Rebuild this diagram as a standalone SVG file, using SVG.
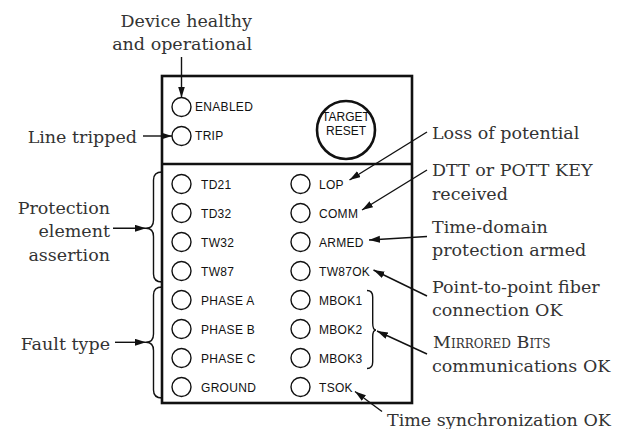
<svg xmlns="http://www.w3.org/2000/svg" width="626" height="429" viewBox="0 0 626 429">
<style>
.note{font-family:"DejaVu Serif","Liberation Serif",serif;font-size:17.5px;fill:#333}
.lbl{font-family:"Liberation Sans","DejaVu Sans",sans-serif;font-size:12px;fill:#111;letter-spacing:0.3px}
.led{fill:#fff;stroke:#111;stroke-width:1.4}
.box{fill:#fff;stroke:#111;stroke-width:2.6}
.arr{fill:none;stroke:#111;stroke-width:1.4;marker-end:url(#ah)}
.brace{fill:none;stroke:#111;stroke-width:1.4}
</style>
<defs>
<marker id="ah" markerUnits="userSpaceOnUse" markerWidth="12" markerHeight="8" refX="11" refY="3.5" orient="auto">
<path d="M0,0 L11,3.5 L0,7 z" fill="#111"/>
</marker>
</defs>
<rect width="626" height="429" fill="#fff"/>
<g id="panel">
<rect class="box" x="162" y="76" width="250" height="327"/>
<line x1="162" y1="164" x2="412" y2="164" stroke="#111" stroke-width="2.6"/>
</g>
<g id="target-reset">
<circle cx="346" cy="130" r="29" fill="#fff" stroke="#111" stroke-width="2.6"/>
<text class="lbl" x="346" y="121" text-anchor="middle" style="letter-spacing:0">TARGET</text>
<text class="lbl" x="346" y="135" text-anchor="middle" style="letter-spacing:0">RESET</text>
</g>
<g id="enabled"><circle class="led" cx="181.5" cy="107" r="9.5"/><text class="lbl" x="195" y="111">ENABLED</text></g>
<g id="trip"><circle class="led" cx="181.5" cy="136" r="9.5"/><text class="lbl" x="195" y="140">TRIP</text></g>
<g id="td21"><circle class="led" cx="181.5" cy="184" r="9.5"/><text class="lbl" x="201" y="188.5">TD21</text></g>
<g id="td32"><circle class="led" cx="181.5" cy="213" r="9.5"/><text class="lbl" x="201" y="217.5">TD32</text></g>
<g id="tw32"><circle class="led" cx="181.5" cy="242" r="9.5"/><text class="lbl" x="201" y="246.5">TW32</text></g>
<g id="tw87"><circle class="led" cx="181.5" cy="271" r="9.5"/><text class="lbl" x="201" y="275.5">TW87</text></g>
<g id="phasea"><circle class="led" cx="181.5" cy="300" r="9.5"/><text class="lbl" x="201" y="304.5">PHASE A</text></g>
<g id="phaseb"><circle class="led" cx="181.5" cy="329" r="9.5"/><text class="lbl" x="201" y="333.5">PHASE B</text></g>
<g id="phasec"><circle class="led" cx="181.5" cy="358" r="9.5"/><text class="lbl" x="201" y="362.5">PHASE C</text></g>
<g id="ground"><circle class="led" cx="181.5" cy="387" r="9.5"/><text class="lbl" x="201" y="391.5">GROUND</text></g>
<g id="lop"><circle class="led" cx="300.5" cy="184" r="9.5"/><text class="lbl" x="319" y="188.5">LOP</text></g>
<g id="comm"><circle class="led" cx="300.5" cy="213" r="9.5"/><text class="lbl" x="319" y="217.5">COMM</text></g>
<g id="armed"><circle class="led" cx="300.5" cy="242" r="9.5"/><text class="lbl" x="319" y="246.5">ARMED</text></g>
<g id="tw87ok"><circle class="led" cx="300.5" cy="271" r="9.5"/><text class="lbl" x="319" y="275.5">TW87OK</text></g>
<g id="mbok1"><circle class="led" cx="300.5" cy="300" r="9.5"/><text class="lbl" x="319" y="304.5">MBOK1</text></g>
<g id="mbok2"><circle class="led" cx="300.5" cy="329" r="9.5"/><text class="lbl" x="319" y="333.5">MBOK2</text></g>
<g id="mbok3"><circle class="led" cx="300.5" cy="358" r="9.5"/><text class="lbl" x="319" y="362.5">MBOK3</text></g>
<g id="tsok"><circle class="led" cx="300.5" cy="387" r="9.5"/><text class="lbl" x="319" y="391.5">TSOK</text></g>
<g id="notes">
<text class="note" x="252" y="26.5" text-anchor="end">Device healthy</text>
<text class="note" x="252" y="50" text-anchor="end">and operational</text>
<text class="note" x="137" y="142.5" text-anchor="end">Line tripped</text>
<text class="note" x="110" y="213.5" text-anchor="end">Protection</text>
<text class="note" x="110" y="237" text-anchor="end">element</text>
<text class="note" x="110" y="260.5" text-anchor="end">assertion</text>
<text class="note" x="110" y="350" text-anchor="end">Fault type</text>
<text class="note" x="432" y="139">Loss of potential</text>
<text class="note" x="432" y="176">DTT or POTT KEY</text>
<text class="note" x="432" y="199.5">received</text>
<text class="note" x="432" y="232.5">Time-domain</text>
<text class="note" x="432" y="256">protection armed</text>
<text class="note" x="432" y="292.5">Point-to-point fiber</text>
<text class="note" x="432" y="316">connection OK</text>
<text class="note" x="433" y="347.5" style="font-variant:small-caps">Mirrored Bits</text>
<text class="note" x="432" y="371.5">communications OK</text>
<text class="note" x="387" y="426">Time synchronization OK</text>
</g>
<g id="connectors">
<path class="brace" d="M162,172 Q153.5,172 153.5,180 L153.5,220 Q153.5,228.3 146,228.3 Q153.5,228.3 153.5,236.5 L153.5,274 Q153.5,282 162,282"/>
<path class="brace" d="M162,287 Q153.5,287 153.5,295 L153.5,334 Q153.5,342.3 146,342.3 Q153.5,342.3 153.5,350.5 L153.5,390 Q153.5,398 162,398"/>
<path class="brace" d="M367,290.5 Q372.7,290.5 372.7,297 L372.7,323 Q372.7,330 376,330 Q372.7,330 372.7,337 L372.7,362 Q372.7,368.5 367,368.5"/>
<line class="arr" x1="181.5" y1="57" x2="181.5" y2="97.5"/>
<line class="arr" x1="143" y1="136" x2="172" y2="136"/>
<line class="arr" x1="113" y1="228.3" x2="146" y2="228.3"/>
<line class="arr" x1="115" y1="342.3" x2="146" y2="342.3"/>
<line class="arr" x1="427" y1="132" x2="349.5" y2="180"/>
<line class="arr" x1="427" y1="170" x2="362" y2="210"/>
<line class="arr" x1="427" y1="236.5" x2="369" y2="240"/>
<line class="arr" x1="427" y1="296" x2="373.5" y2="270"/>
<line class="arr" x1="427" y1="354" x2="377" y2="331"/>
<line class="arr" x1="382" y1="411.5" x2="355" y2="391.5"/>
</g>
</svg>
